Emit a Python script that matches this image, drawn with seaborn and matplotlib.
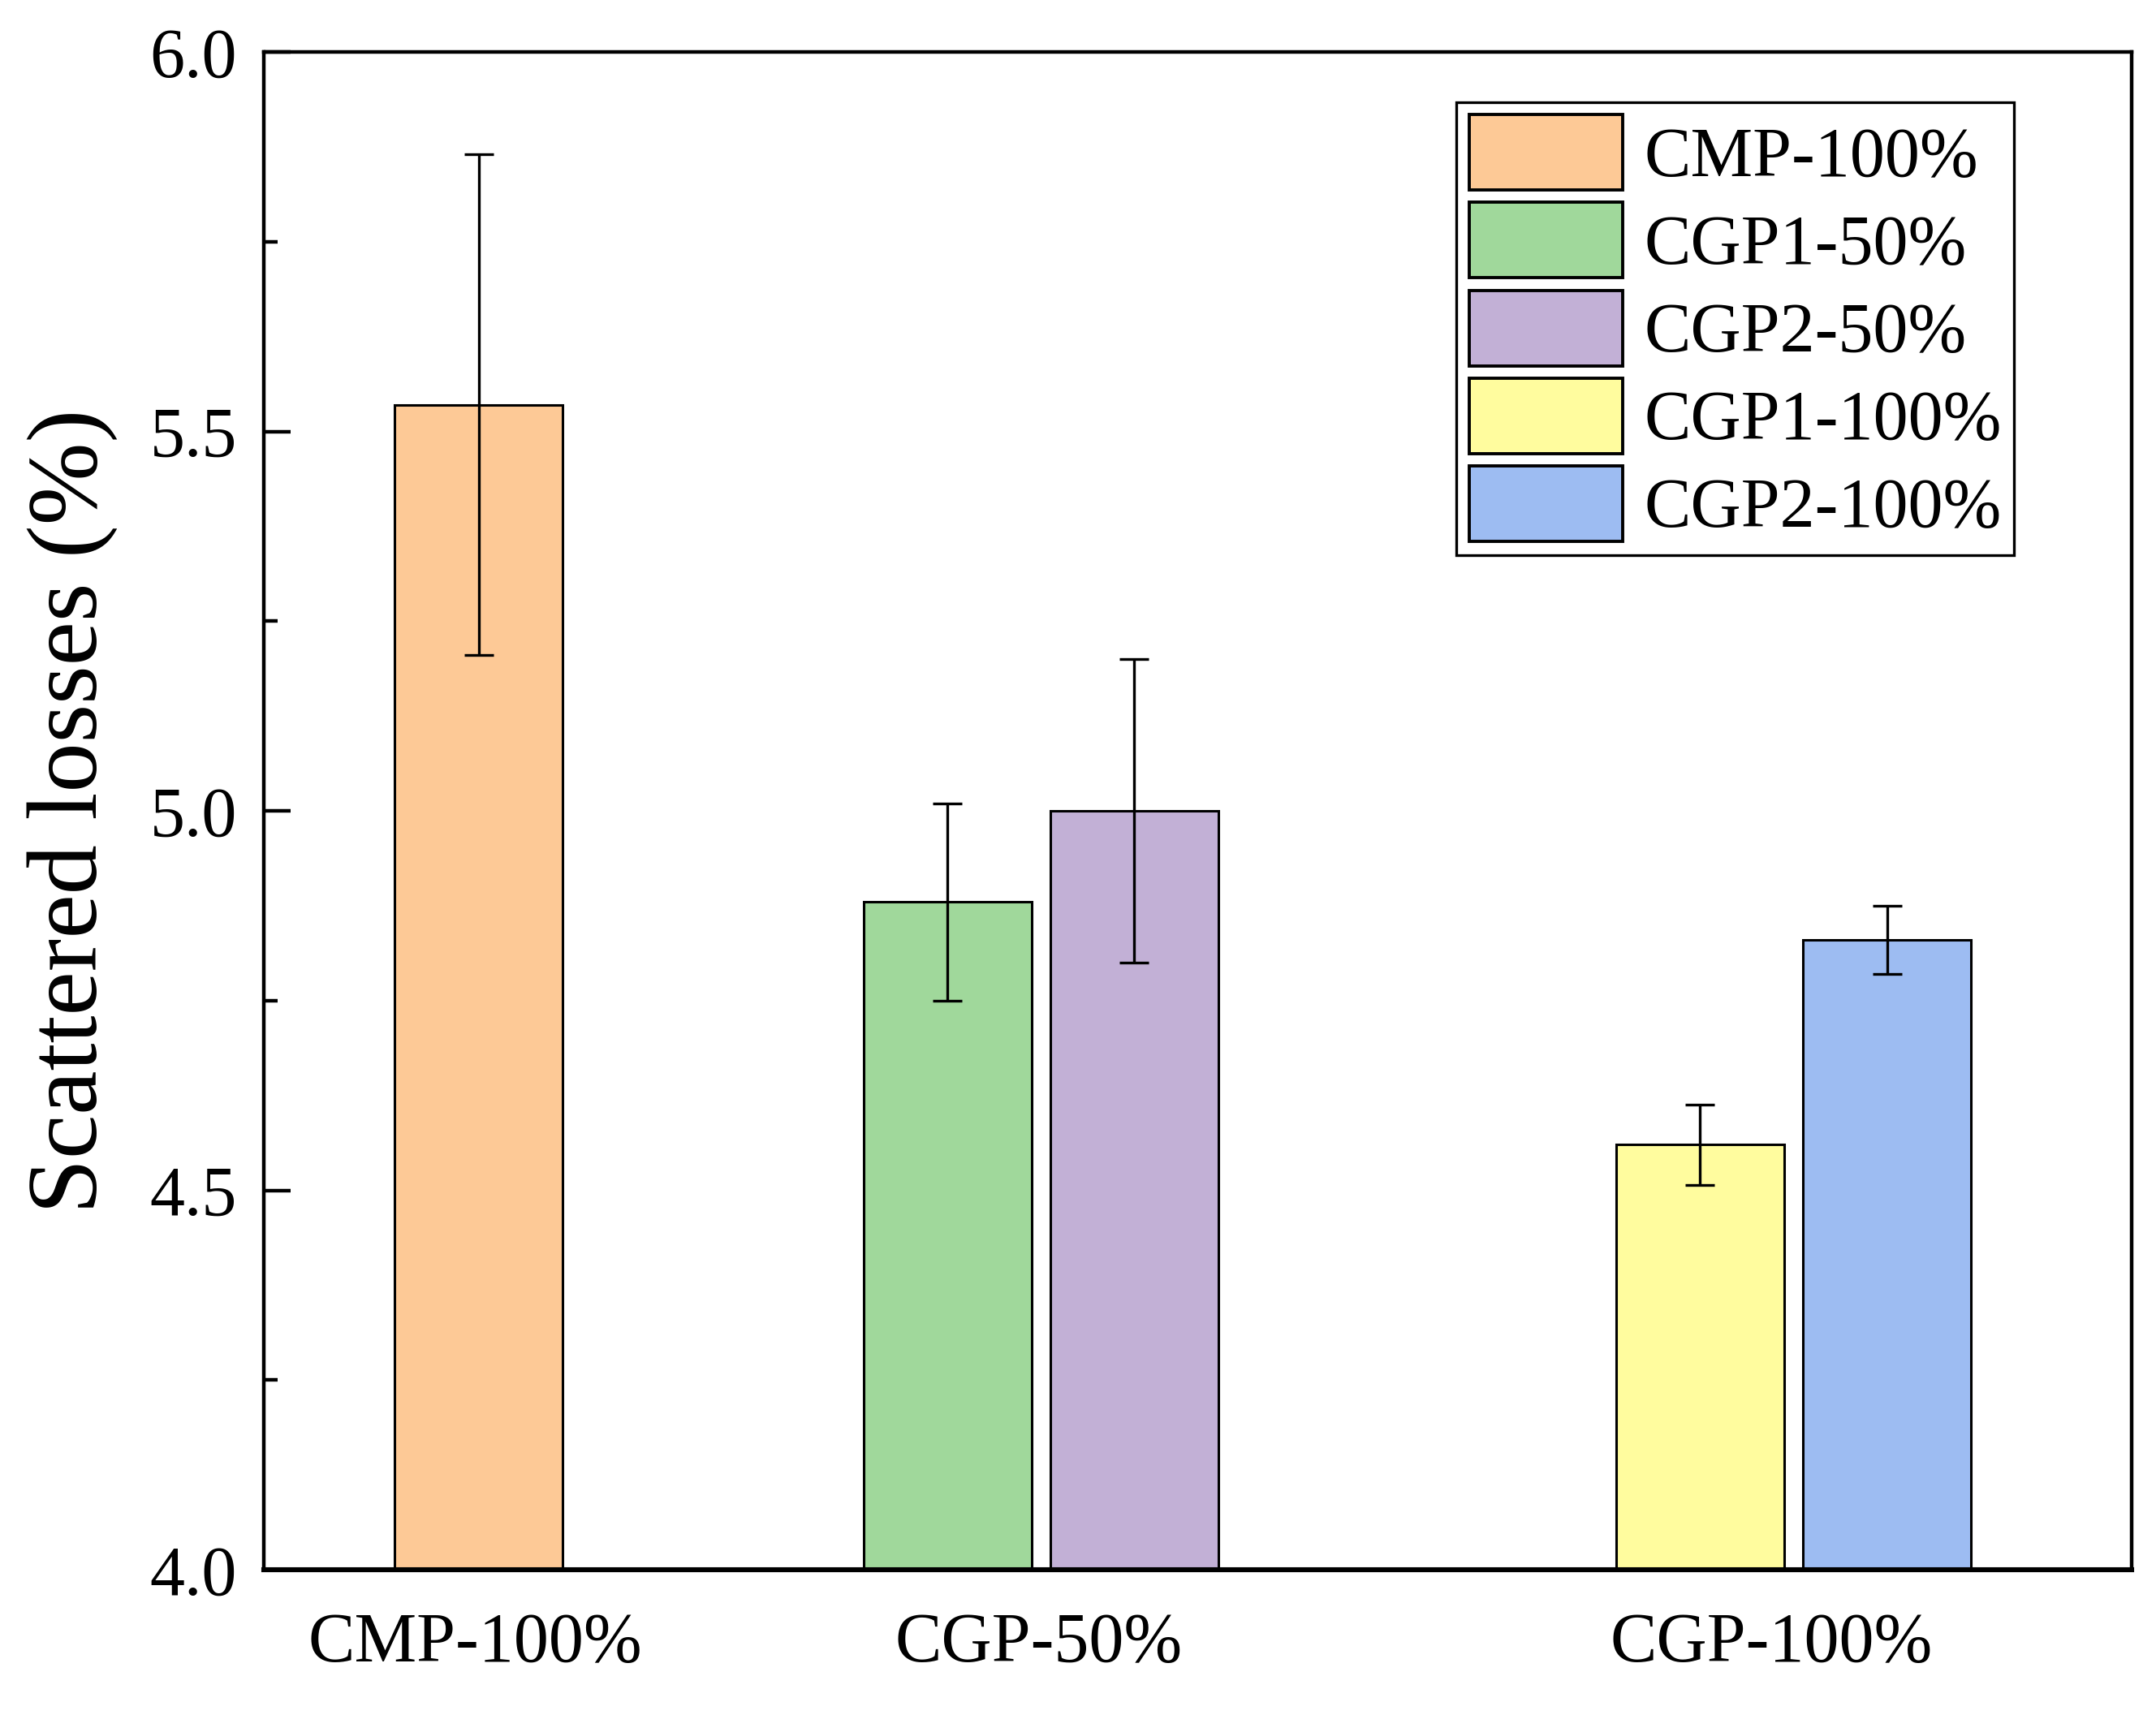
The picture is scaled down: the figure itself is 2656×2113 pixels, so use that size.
import pandas as pd
import seaborn as sns
import matplotlib.pyplot as plt
from matplotlib.ticker import MultipleLocator, FormatStrFormatter

sns.set_style("ticks")
plt.rcParams["font.family"] = ["Liberation Serif", "DejaVu Serif"]
plt.rcParams["text.color"] = "black"
plt.rcParams["axes.labelcolor"] = "black"
plt.rcParams["xtick.color"] = "black"
plt.rcParams["ytick.color"] = "black"

# data
samples = ["CMP-100%", "CGP1-50%", "CGP2-50%", "CGP1-100%", "CGP2-100%"]
losses = [5.535, 4.88, 5.0, 4.56, 4.83]
errors = [0.33, 0.13, 0.2, 0.053, 0.045]
group_labels = ["CMP-100%", "CGP-50%", "CGP-100%"]

# layout
positions = [1.15, 3.66, 4.66, 7.69, 8.69]
group_ticks = [1.13, 4.15, 8.07]
colors = ["#FDC996", "#A0D89B", "#C2B0D6", "#FFFC9E", "#9DBCF2"]

df = pd.DataFrame({"pos": positions, "loss": losses, "sample": samples})

fig = plt.figure(figsize=(13.28, 10.565), dpi=200)
ax = fig.add_axes([0.1224, 0.0847, 0.8663, 0.885])

sns.barplot(
    data=df,
    x="pos",
    y="loss",
    hue="sample",
    hue_order=samples,
    palette=colors,
    native_scale=True,
    width=0.9,
    dodge=False,
    errorbar=None,
    edgecolor="black",
    linewidth=1.1,
    saturation=1,
    ax=ax,
)
ax.errorbar(
    positions,
    losses,
    yerr=errors,
    fmt="none",
    ecolor="black",
    elinewidth=1.2,
    capsize=6.5,
    capthick=1.2,
)

ax.set_xlim(0, 10)
ax.set_ylim(4.0, 6.0)
ax.set_xticks(group_ticks)
ax.set_xticklabels(group_labels)
ax.yaxis.set_major_locator(MultipleLocator(0.5))
ax.yaxis.set_minor_locator(MultipleLocator(0.25))
ax.yaxis.set_major_formatter(FormatStrFormatter("%.1f"))
ax.tick_params(axis="x", length=0, pad=19, labelsize=31)
ax.tick_params(axis="y", which="major", direction="in", length=12, width=1.6,
               pad=12, labelsize=31)
ax.tick_params(axis="y", which="minor", direction="in", length=6, width=1.6)
ax.set_xlabel("")
ax.set_ylabel("Scattered losses (%)", fontsize=44, labelpad=14)

for side in ["left", "top", "right"]:
    ax.spines[side].set_linewidth(1.6)
    ax.spines[side].set_color("black")
ax.spines["bottom"].set_linewidth(2.2)
ax.spines["bottom"].set_color("black")

sns.move_legend(
    ax,
    "upper right",
    bbox_to_anchor=(0.937, 0.967),
    title=None,
    frameon=True,
    fancybox=False,
    edgecolor="black",
    fontsize=31,
    handlelength=2.2,
    handleheight=1.285,
    labelspacing=0.16,
    handletextpad=0.3,
    borderpad=0.18,
    borderaxespad=0,
    framealpha=1,
)
leg = ax.get_legend()
leg.get_frame().set_linewidth(1.2)
for h in leg.legend_handles:
    h.set_edgecolor("black")
    h.set_linewidth(1.4)

fig.savefig("out.png", dpi=200)
